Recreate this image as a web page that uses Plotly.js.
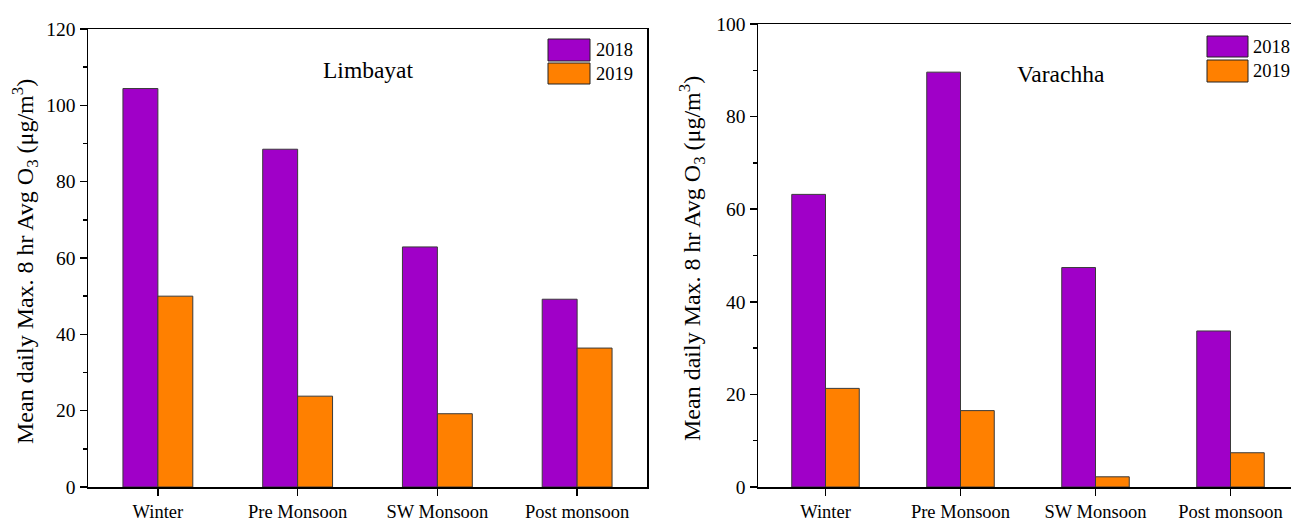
<!DOCTYPE html>
<html>
<head>
<meta charset="utf-8">
<script src="https://cdn.plot.ly/plotly-3.0.1.min.js"></script>
<style>html,body{margin:0;padding:0;background:#fff;}#chart{width:1291px;height:521px;}</style>
</head>
<body>
<div id="chart"></div>
<script>
// ---- data ----
const seasons = ["Winter", "Pre Monsoon", "SW Monsoon", "Post monsoon"];
const years = ["2018", "2019"];
const limbayat2018 = [104.4, 88.5, 62.9, 49.2];
const limbayat2019 = [50.0, 23.8, 19.2, 36.4];
const varachha2018 = [63.2, 89.6, 47.4, 33.7];
const varachha2019 = [21.3, 16.5, 2.2, 7.4];
const siteNames = ["Limbayat", "Varachha"];
const yTitle = "Mean daily Max. 8 hr Avg O<sub>3</sub> (μg/m<sup>3</sup>)";

// ---- style ----
const W = 1291, H = 521;
const px = v => v / W;
const py = v => 1 - v / H;
const FONT = "'Liberation Serif', 'Times New Roman', serif";
const colors = ["#A000C8", "#FF8000"];
const outline = {color: "#3a3a3a", width: 1};

const traces = [
  {type: "bar", x: seasons, y: limbayat2018, name: years[0], xaxis: "x", yaxis: "y", marker: {color: colors[0], line: outline}},
  {type: "bar", x: seasons, y: limbayat2019, name: years[1], xaxis: "x", yaxis: "y", marker: {color: colors[1], line: outline}},
  {type: "bar", x: seasons, y: varachha2018, name: years[0], xaxis: "x2", yaxis: "y2", marker: {color: colors[0], line: outline}},
  {type: "bar", x: seasons, y: varachha2019, name: years[1], xaxis: "x2", yaxis: "y2", marker: {color: colors[1], line: outline}}
];

const xTickFont = {family: FONT, size: 18.5, color: "#000"};
const yTickFont = {family: FONT, size: 19.5, color: "#000"};
function xCat(domain, anchor, range) {
  return {domain: domain, anchor: anchor, type: "category", categoryorder: "array", categoryarray: seasons,
    range: range, ticks: "outside", ticklen: 7, tickwidth: 1.5, tickcolor: "#000",
    showline: true, linecolor: "#000", linewidth: 1.5, mirror: true, showgrid: false, zeroline: false,
    tickfont: xTickFont, fixedrange: true};
}
function xMinor(over, anchor, range) {
  return {overlaying: over, anchor: anchor, type: "linear", range: range,
    tickmode: "array", tickvals: [-0.5, 0.5, 1.5, 2.5, 3.5], ticks: "outside", ticklen: 4, tickwidth: 1.5,
    tickcolor: "#000", showticklabels: false, showline: false, showgrid: false, zeroline: false, fixedrange: true};
}
function yAx(domain, anchor, range, mirror) {
  return {domain: domain, anchor: anchor, range: range, dtick: 20, ticks: "outside", ticklen: 7, tickwidth: 1.5,
    tickcolor: "#000", minor: {dtick: 10, ticks: "outside", ticklen: 4, tickwidth: 1.5, tickcolor: "#000", showgrid: false},
    showline: true, linecolor: "#000", linewidth: 1.5, mirror: mirror, showgrid: false, zeroline: false,
    tickfont: yTickFont, fixedrange: true};
}

const leftX = [px(88), px(647)];
const rightX = [px(758), 1];
const rightRange = [-0.5, -0.5 + (W - 758) / 135];

const shapes = [];
const annotations = [];
function legend(x0, x1, rows, textX) {
  rows.forEach((r, i) => {
    shapes.push({type: "rect", xref: "paper", yref: "paper", x0: px(x0), x1: px(x1), y0: py(r[0]), y1: py(r[1]),
      fillcolor: colors[i], line: {color: "#222", width: 1}});
    annotations.push({xref: "paper", yref: "paper", x: px(textX), y: py((r[0] + r[1]) / 2), xanchor: "left", yanchor: "middle",
      text: years[i], showarrow: false, font: {family: FONT, size: 18.5, color: "#000"}});
  });
}
legend(548, 590, [[39, 61], [63, 84]], 594);
legend(1207, 1248, [[36, 57], [60, 82]], 1251);

function label(x, y, text, size, angle) {
  annotations.push({xref: "paper", yref: "paper", x: px(x), y: py(y), xanchor: "center", yanchor: "middle",
    text: text, textangle: angle || 0, showarrow: false, font: {family: FONT, size: size, color: "#000"}});
}
label(368, 70, siteNames[0], 23.5);
label(1061, 74, siteNames[1], 23.5);
label(25, 262, yTitle, 24, -90);
label(692, 258, yTitle, 24, -90);

const layout = {
  width: W, height: H, margin: {l: 0, r: 0, t: 0, b: 0},
  paper_bgcolor: "#fff", plot_bgcolor: "#fff",
  showlegend: false, barmode: "group", bargap: 0.5, bargroupgap: 0,
  font: {family: FONT, color: "#000"},
  xaxis: xCat(leftX, "y", [-0.5, 3.5]),
  xaxis3: xMinor("x", "y", [-0.5, 3.5]),
  yaxis: yAx([1 - 487 / H, 1 - 29 / H], "x", [0, 120], true),
  xaxis2: xCat(rightX, "y2", rightRange),
  xaxis4: xMinor("x2", "y2", rightRange),
  yaxis2: yAx([1 - 487 / H, 1 - 24 / H], "x2", [0, 100], false),
  shapes: shapes,
  annotations: annotations
};

Plotly.newPlot("chart", traces, layout, {displayModeBar: false, staticPlot: true});
</script>
</body>
</html>
